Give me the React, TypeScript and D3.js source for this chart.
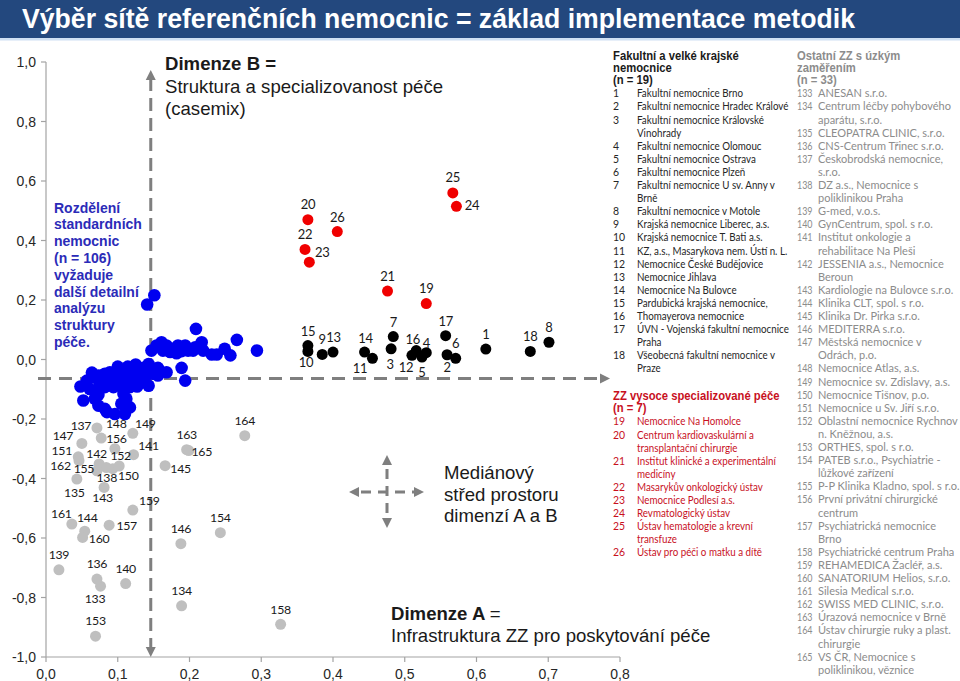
import React from 'react';
import * as d3 from 'd3';

const W = 960;
const H = 681;

// ---------- DATA ----------
const titleText = 'Výběr sítě referenčních nemocnic = základ implementace metodik';
const yTickValues = [1.0, 0.8, 0.6, 0.4, 0.2, 0.0, -0.2, -0.4, -0.6, -0.8, -1.0];
const xTickValues = [0.0, 0.1, 0.2, 0.3, 0.4, 0.5, 0.6, 0.7, 0.8];
const medianA = 0.146;
const medianB = -0.064;

// [id, dimenze A, dimenze B]
const fakultniPoints: [number, number, number][] = [
  [1, 0.613, 0.035], [2, 0.559, 0.016], [3, 0.481, 0.036], [4, 0.530, 0.023],
  [5, 0.524, 0.008], [6, 0.571, 0.004], [7, 0.484, 0.077], [8, 0.701, 0.058],
  [9, 0.385, 0.017], [10, 0.365, 0.027], [11, 0.455, 0.004], [12, 0.510, 0.014],
  [13, 0.400, 0.025], [14, 0.444, 0.025], [15, 0.365, 0.047], [16, 0.516, 0.030],
  [17, 0.557, 0.080], [18, 0.675, 0.027],
];

const specialPoints: [number, number, number][] = [
  [19, 0.530, 0.188], [20, 0.365, 0.470], [21, 0.476, 0.230], [22, 0.361, 0.370],
  [23, 0.367, 0.327], [24, 0.572, 0.515], [25, 0.567, 0.560], [26, 0.406, 0.430],
];

const ostatniPoints: [number, number, number][] = [
  [133, 0.076, -0.762], [134, 0.189, -0.828], [135, 0.043, -0.402], [136, 0.071, -0.738],
  [137, 0.071, -0.230], [138, 0.084, -0.363], [139, 0.018, -0.707], [140, 0.111, -0.753],
  [141, 0.122, -0.320], [142, 0.074, -0.351], [143, 0.081, -0.430], [144, 0.054, -0.577],
  [145, 0.166, -0.357], [146, 0.188, -0.619], [147, 0.050, -0.282], [148, 0.077, -0.264],
  [149, 0.121, -0.248], [150, 0.093, -0.367], [151, 0.045, -0.327], [152, 0.102, -0.358],
  [153, 0.069, -0.930], [154, 0.243, -0.582], [155, 0.071, -0.374], [156, 0.096, -0.300],
  [157, 0.088, -0.557], [158, 0.327, -0.890], [159, 0.121, -0.506], [160, 0.051, -0.598],
  [161, 0.036, -0.553], [162, 0.046, -0.340], [163, 0.196, -0.303], [164, 0.277, -0.256],
  [165, 0.199, -0.306],
];

// standardní nemocnice [dimenze A, dimenze B]
const standardPoints: [number, number][] = [
  [0.151, 0.216], [0.141, 0.185], [0.209, 0.103], [0.266, 0.066], [0.294, 0.030],
  [0.147, 0.030], [0.154, 0.047], [0.161, 0.058], [0.168, 0.047], [0.177, 0.036],
  [0.184, 0.047], [0.194, 0.047], [0.198, 0.030], [0.182, 0.021], [0.205, 0.030],
  [0.217, 0.058], [0.219, 0.030], [0.231, 0.017], [0.238, 0.017], [0.249, 0.036],
  [0.257, 0.014], [0.163, 0.030], [0.173, 0.025], [0.189, 0.028], [0.208, 0.041],
  [0.143, -0.015], [0.136, -0.028], [0.131, -0.043], [0.156, -0.028], [0.168, -0.043],
  [0.189, -0.028], [0.194, -0.071], [0.048, -0.091], [0.057, -0.071], [0.066, -0.060],
  [0.073, -0.054], [0.082, -0.048], [0.089, -0.043], [0.096, -0.054], [0.105, -0.037],
  [0.112, -0.043], [0.119, -0.037], [0.126, -0.043], [0.139, -0.054], [0.149, -0.048],
  [0.156, -0.054], [0.061, -0.099], [0.075, -0.082], [0.087, -0.071], [0.099, -0.071],
  [0.108, -0.065], [0.117, -0.071], [0.129, -0.071], [0.138, -0.076], [0.143, -0.088],
  [0.071, -0.110], [0.082, -0.093], [0.094, -0.093], [0.105, -0.091], [0.117, -0.093],
  [0.127, -0.091], [0.052, -0.138], [0.068, -0.132], [0.073, -0.119], [0.108, -0.116],
  [0.112, -0.132], [0.073, -0.155], [0.082, -0.166], [0.105, -0.149], [0.117, -0.161],
  [0.085, -0.177], [0.096, -0.183], [0.110, -0.183], [0.100, -0.024], [0.114, -0.024],
  [0.125, -0.017], [0.064, -0.044],
];

const fakultniHeading = ['Fakultní a velké krajské', 'nemocnice', '(n = 19)'];
const fakultniNames: [number, string[]][] = [
  [1, ['Fakultní nemocnice Brno']],
  [2, ['Fakultní nemocnice Hradec Králové']],
  [3, ['Fakultní nemocnice Královské', 'Vinohrady']],
  [4, ['Fakultní nemocnice Olomouc']],
  [5, ['Fakultní nemocnice Ostrava']],
  [6, ['Fakultní nemocnice Plzeň']],
  [7, ['Fakultní nemocnice U sv. Anny v', 'Brně']],
  [8, ['Fakultní nemocnice v Motole']],
  [9, ['Krajská nemocnice Liberec, a.s.']],
  [10, ['Krajská nemocnice T. Bati a.s.']],
  [11, ['KZ, a.s., Masarykova nem. Ústí n. L.']],
  [12, ['Nemocnice České Budějovice']],
  [13, ['Nemocnice Jihlava']],
  [14, ['Nemocnice Na Bulovce']],
  [15, ['Pardubická krajská nemocnice,']],
  [16, ['Thomayerova nemocnice']],
  [17, ['ÚVN - Vojenská fakultní nemocnice', 'Praha']],
  [18, ['Všeobecná fakultní nemocnice v', 'Praze']],
];

const specialHeading = ['ZZ vysoce specializované péče', '(n = 7)'];
const specialNames: [number, string[]][] = [
  [19, ['Nemocnice Na Homolce']],
  [20, ['Centrum kardiovaskulární a', 'transplantační chirurgie']],
  [21, ['Institut klinické a experimentální', 'medicíny']],
  [22, ['Masarykův onkologický ústav']],
  [23, ['Nemocnice Podlesí a.s.']],
  [24, ['Revmatologický ústav']],
  [25, ['Ústav hematologie a krevní', 'transfuze']],
  [26, ['Ústav pro péči o matku a dítě']],
];

const ostatniHeading = ['Ostatní ZZ s úzkým', 'zaměřením', '(n = 33)'];
const ostatniNames: [number, string[]][] = [
  [133, ['ANESAN s.r.o.']],
  [134, ['Centrum léčby pohybového', 'aparátu, s.r.o.']],
  [135, ['CLEOPATRA CLINIC, s.r.o.']],
  [136, ['CNS-Centrum Třinec s.r.o.']],
  [137, ['Českobrodská nemocnice,', 's.r.o.']],
  [138, ['DZ a.s., Nemocnice s', 'poliklinikou Praha']],
  [139, ['G-med, v.o.s.']],
  [140, ['GynCentrum, spol. s r.o.']],
  [141, ['Institut onkologie a', 'rehabilitace Na Pleši']],
  [142, ['JESSENIA a.s., Nemocnice', 'Beroun']],
  [143, ['Kardiologie na Bulovce s.r.o.']],
  [144, ['Klinika CLT, spol. s r.o.']],
  [145, ['Klinika Dr. Pirka s.r.o.']],
  [146, ['MEDITERRA s.r.o.']],
  [147, ['Městská nemocnice v', 'Odrách, p.o.']],
  [148, ['Nemocnice Atlas, a.s.']],
  [149, ['Nemocnice sv. Zdislavy, a.s.']],
  [150, ['Nemocnice Tišnov, p.o.']],
  [151, ['Nemocnice u Sv. Jiří s.r.o.']],
  [152, ['Oblastní nemocnice Rychnov', 'n. Kněžnou, a.s.']],
  [153, ['ORTHES, spol. s r.o.']],
  [154, ['PATEB s.r.o., Psychiatrie -', 'lůžkové zařízení']],
  [155, ['P-P Klinika Kladno, spol. s r.o.']],
  [156, ['První privátní chirurgické', 'centrum']],
  [157, ['Psychiatrická nemocnice', 'Brno']],
  [158, ['Psychiatrické centrum Praha']],
  [159, ['REHAMEDICA Žacléř, a.s.']],
  [160, ['SANATORIUM Helios, s.r.o.']],
  [161, ['Silesia Medical s.r.o.']],
  [162, ['SWISS MED CLINIC, s.r.o.']],
  [163, ['Úrazová nemocnice v Brně']],
  [164, ['Ústav chirurgie ruky a plast.', 'chirurgie']],
  [165, ['VS ČR, Nemocnice s', 'poliklinikou, věznice']],
];

const noteLines = ['Rozdělení', 'standardních', 'nemocnic', '(n = 106)', 'vyžaduje', 'další detailní', 'analýzu', 'struktury', 'péče.'];
const dimBLines = ['Struktura a specializovanost péče', '(casemix)'];
const medianLines = ['Mediánový', 'střed prostoru', 'dimenzí A a B'];

// ---------- LAYOUT / STYLE ----------
const labelOffsets: Record<number, [number, number]> = {
  1: [0, -15], 2: [0, 12.5], 3: [-1, 15], 4: [0, -10], 5: [0, 15], 6: [0, -15],
  7: [0, -15], 8: [0, -15.5], 9: [0, -15.5], 10: [-2, 11], 11: [-12.5, 10], 12: [-6, 12],
  13: [0.5, -15.5], 14: [1, -14.5], 15: [0, -15], 16: [-3.5, -11.5], 17: [0, -14.5], 18: [0, -15],
  19: [0, -16], 20: [0, -16], 21: [0, -15], 22: [0, -15.5], 23: [13, -10.5], 24: [15.5, -1],
  25: [0, -16], 26: [0, -14.5],
  133: [-5.5, 12.5], 134: [0, -15], 135: [-2.5, 13.5], 136: [0, -15.5], 137: [-16, -2.5],
  138: [0.5, 10], 139: [0, -15.5], 140: [0, -15], 141: [15, -9], 142: [-2.5, -10.5],
  143: [-1.5, 10], 144: [2.5, -13.5], 145: [15.5, 2.5], 146: [0, -15], 147: [-19, -7.5],
  148: [15, -15], 149: [12.5, -9.5], 150: [15.5, 6.5], 151: [-16.5, -6], 152: [1.5, -10.5],
  153: [0, -15.5], 154: [0, -15.5], 155: [-13, -2.5], 156: [1.5, -10], 157: [17.5, 0],
  158: [0, -15], 159: [16.5, -10], 160: [16.5, 1.5], 161: [-10.5, -10.5], 162: [-18.5, 5],
  163: [0, -15.5], 164: [0, -15], 165: [13, 1],
};

const AX = '#a3a3a3';
const MED = '#7f7f7f';
const LINE_H = 13.1;

const fmt = (v: number) => v.toFixed(1).replace('.', ',');

function LegendBlock({ x, xText, y0, heading, items, color, headColor, numSize, numSx, textSx }: {
  x: number; xText: number; y0: number; heading: string[]; items: [number, string[]][];
  color: string; headColor: string; numSize: number; numSx: number; textSx: number;
}) {
  const out: React.ReactNode[] = [];
  let y = y0;
  heading.forEach((h, i) => {
    out.push(
      <text key={'h' + i} transform={`translate(${x},${y}) scale(0.94,1)`} fontFamily="Liberation Sans, Arial, sans-serif" fontWeight="bold" fontSize={12} fill={headColor}>{h}</text>
    );
    y += i === heading.length - 1 ? 13 : 12.4;
  });
  items.forEach(([id, lines]) => {
    lines.forEach((ln, j) => {
      if (j === 0) {
        out.push(
          <text key={'n' + id} transform={`translate(${x},${y}) scale(${numSx},1)`} fontFamily="Lato, sans-serif" fontSize={numSize} fill={color}>{id}</text>
        );
      }
      out.push(
        <text key={'t' + id + '_' + j} transform={`translate(${xText},${y}) scale(${textSx},1)`} fontFamily="Lato, sans-serif" fontSize={11} fill={color}>{ln}</text>
      );
      y += LINE_H;
    });
  });
  return <g>{out}</g>;
}

function Arrow({ x, y, dir }: { x: number; y: number; dir: 'up' | 'down' | 'left' | 'right' }) {
  const l = 10, w = 5;
  let pts = '';
  if (dir === 'up') pts = `${x},${y} ${x - w},${y + l} ${x + w},${y + l}`;
  if (dir === 'down') pts = `${x},${y} ${x - w},${y - l} ${x + w},${y - l}`;
  if (dir === 'left') pts = `${x},${y} ${x + l},${y - w} ${x + l},${y + w}`;
  if (dir === 'right') pts = `${x},${y} ${x - l},${y - w} ${x - l},${y + w}`;
  return <polygon points={pts} fill={MED} />;
}

export default function App() {
  const x = d3.scaleLinear().domain([0, 0.8]).range([46, 620]);
  const y = d3.scaleLinear().domain([-1, 1]).range([657, 62]);

  const mx = x(medianA);
  const my = y(medianB);

  const ptLabel = (id: number, px: number, py: number, size: number) => {
    const [dx, dy] = labelOffsets[id] || [0, -15];
    return (
      <text key={'l' + id} x={px + dx} y={py + dy} textAnchor="middle" dominantBaseline="central"
        fontFamily="Lato, sans-serif" fontSize={size} letterSpacing={-0.3} fill="#1a1a1a">{id}</text>
    );
  };

  const cx0 = 387, cy0 = 492;

  return (
    <svg width={W} height={H} viewBox={`0 0 ${W} ${H}`} style={{ position: 'absolute', left: 0, top: 0, background: '#fff' }}>
      {/* title bar */}
      <rect x={0} y={0} width={W} height={38} fill="#23487e" />
      <rect x={0} y={38} width={W} height={2.5} fill="#cfe0f3" />
      <text x={22} y={28} fill="#fff" fontFamily="Liberation Sans, Arial, sans-serif" fontWeight="bold" fontSize={27}
        textLength={833} lengthAdjust="spacingAndGlyphs">{titleText}</text>

      {/* axes */}
      <line x1={x(0)} x2={x(0)} y1={y(1)} y2={y(-1)} stroke={AX} strokeWidth={1.2} />
      <line x1={x(0)} x2={x(0.8)} y1={y(-1)} y2={y(-1)} stroke={AX} strokeWidth={1.2} />
      {yTickValues.map(v => (
        <g key={'yt' + v}>
          <line x1={x(0) - 5} x2={x(0)} y1={y(v)} y2={y(v)} stroke={AX} strokeWidth={1.2} />
          <text x={36} y={y(v) + 5} textAnchor="end" fontFamily="Liberation Sans, Arial, sans-serif" fontSize={14} fill="#262626">{fmt(v)}</text>
        </g>
      ))}
      {xTickValues.map(v => (
        <g key={'xt' + v}>
          <line x1={x(v)} x2={x(v)} y1={y(-1)} y2={y(-1) + 5} stroke={AX} strokeWidth={1.2} />
          <text x={x(v)} y={679} textAnchor="middle" fontFamily="Liberation Sans, Arial, sans-serif" fontSize={14} fill="#262626">{fmt(v)}</text>
        </g>
      ))}

      {/* median lines */}
      <line x1={mx} x2={mx} y1={y(1) + 16} y2={y(-1) - 10} stroke={MED} strokeWidth={3} strokeDasharray="13,7" />
      <Arrow x={mx} y={y(1) + 8} dir="up" />
      <Arrow x={mx} y={y(-1)} dir="down" />
      <line x1={38} x2={600} y1={my} y2={my} stroke={MED} strokeWidth={3} strokeDasharray="13,8" />
      <Arrow x={610} y={my} dir="right" />

      {/* points: standard */}
      {standardPoints.map((p, i) => (
        <circle key={'s' + i} cx={x(p[0])} cy={y(p[1])} r={6.3} fill="#0000f0" />
      ))}
      {/* points: ostatni */}
      {ostatniPoints.map(p => (
        <circle key={'o' + p[0]} cx={x(p[1])} cy={y(p[2])} r={5.5} fill="#bfbfbf" />
      ))}
      {ostatniPoints.map(p => ptLabel(p[0], x(p[1]), y(p[2]), 12.3))}
      {/* points: fakultni */}
      {fakultniPoints.map(p => (
        <circle key={'f' + p[0]} cx={x(p[1])} cy={y(p[2])} r={5.5} fill="#000" />
      ))}
      {fakultniPoints.map(p => ptLabel(p[0], x(p[1]), y(p[2]), 13))}
      {/* points: specialized */}
      {specialPoints.map(p => (
        <circle key={'z' + p[0]} cx={x(p[1])} cy={y(p[2])} r={5.5} fill="#f00000" />
      ))}
      {specialPoints.map(p => ptLabel(p[0], x(p[1]), y(p[2]), 13))}

      {/* annotations */}
      <g fontFamily="Liberation Sans, Arial, sans-serif" fill="#1a1a1a">
        <text x={165} y={70} fontSize={18.6} fontWeight="bold">Dimenze B =</text>
        {dimBLines.map((t, i) => (
          <text key={'db' + i} x={165} y={93 + i * 22} fontSize={18.6}>{t}</text>
        ))}
        {medianLines.map((t, i) => (
          <text key={'ml' + i} x={444} y={479 + i * 21.5} fontSize={18.6}>{t}</text>
        ))}
        <text x={391} y={620} fontSize={18.6} fontWeight="bold">Dimenze A <tspan fontWeight="normal">=</tspan></text>
        <text x={391} y={642} fontSize={18.6}>Infrastruktura ZZ pro poskytování péče</text>
      </g>
      <g fontFamily="Liberation Sans, Arial, sans-serif" fontWeight="bold" fontSize={14} fill="#2b2bb8">
        {noteLines.map((t, i) => (
          <text key={'nl' + i} x={54} y={212.5 + i * 16.8}>{t}</text>
        ))}
      </g>

      {/* median cross icon */}
      <line x1={cx0} x2={cx0} y1={cy0 - 26} y2={cy0 + 26} stroke={MED} strokeWidth={3} strokeDasharray="10,7" strokeDashoffset={-3} />
      <line x1={cx0 - 28} x2={cx0 + 28} y1={cy0} y2={cy0} stroke={MED} strokeWidth={3} strokeDasharray="10,7" strokeDashoffset={-2} />
      <Arrow x={cx0} y={cy0 - 37} dir="up" />
      <Arrow x={cx0} y={cy0 + 36} dir="down" />
      <Arrow x={cx0 - 38} y={cy0} dir="left" />
      <Arrow x={cx0 + 37} y={cy0} dir="right" />

      {/* legends */}
      <LegendBlock x={613} xText={637} y0={59.5} heading={fakultniHeading} items={fakultniNames} color="#262626" headColor="#1a1a1a" numSize={11} numSx={0.95} textSx={0.89} />
      <LegendBlock x={613} xText={637} y0={400} heading={specialHeading} items={specialNames} color="#c8101e" headColor="#c8101e" numSize={11} numSx={0.95} textSx={0.89} />
      <LegendBlock x={797} xText={818} y0={59.5} heading={ostatniHeading} items={ostatniNames} color="#8c8c8c" headColor="#8c8c8c" numSize={10.5} numSx={0.85} textSx={1.0} />
    </svg>
  );
}
